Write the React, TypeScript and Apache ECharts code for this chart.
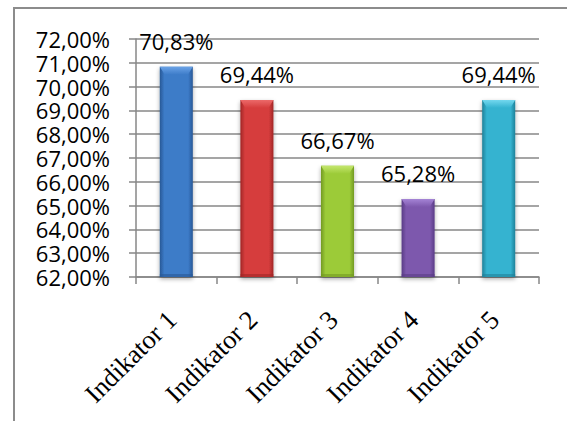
import React, { useEffect, useRef } from "react";
import * as echarts from "echarts";

const categories = ["Indikator 1", "Indikator 2", "Indikator 3", "Indikator 4", "Indikator 5"];
const values = [70.83, 69.44, 66.67, 65.28, 69.44];
const valueLabels = ["70,83%", "69,44%", "66,67%", "65,28%", "69,44%"];
const barColors = [
  { base: "#3c7bc8", dark: "#285896", light: "#6aa2e6" },
  { base: "#d63d3d", dark: "#a02626", light: "#ec6a6a" },
  { base: "#9ccb38", dark: "#739a22", light: "#c4e66e" },
  { base: "#7d58ad", dark: "#5a3c86", light: "#a584d6" },
  { base: "#34b3d0", dark: "#1f8199", light: "#74d8ef" },
];
const yMin = 62;
const yMax = 72;

export default function App() {
  const ref = useRef<HTMLDivElement>(null);
  useEffect(() => {
    if (!ref.current) return;
    const chart = echarts.init(ref.current, null, { renderer: "svg" });
    const sans = "Open Sans";
    chart.setOption({
      animation: false,
      graphic: [
        {
          type: "polyline",
          shape: { points: [[14, 430], [14, 8], [580, 8]] },
          style: { stroke: "#8c8c8c", lineWidth: 2, fill: "none" },
          silent: true,
        },
      ],
      grid: { left: 136, right: 28, top: 39, bottom: 144, containLabel: false },
      xAxis: {
        type: "category",
        data: categories,
        axisLine: { show: true, lineStyle: { color: "#878787", width: 1.5 } },
        axisTick: { show: true, length: 7, lineStyle: { color: "#878787", width: 1.5 } },
        axisLabel: {
          rotate: 45,
          margin: 34,
          padding: [0, 6, 0, 0],
          color: "#000",
          fontFamily: "Liberation Serif",
          fontSize: 26.5,
          interval: 0,
        },
        splitLine: { show: false },
      },
      yAxis: {
        type: "value",
        min: yMin,
        max: yMax,
        interval: 1,
        axisLine: { show: true, lineStyle: { color: "#878787", width: 1.5 } },
        axisTick: { show: true, length: 7, lineStyle: { color: "#878787", width: 1.5 } },
        axisLabel: {
          margin: 26,
          color: "#000",
          fontFamily: sans,
          fontSize: 22,
          lineHeight: 22,
          formatter: (v: number) => v.toFixed(2).replace(".", ",") + "%",
        },
        splitLine: { show: true, lineStyle: { color: "#878787", width: 1.5 } },
      },
      series: [
        {
          type: "custom",
          data: values.map((v, i) => [i, v]),
          renderItem: (params: any, api: any) => {
            const idx = api.value(0);
            const val = api.value(1);
            const top = api.coord([idx, val]);
            const base = api.coord([idx, yMin]);
            const w = api.size([1, 0])[0] * 0.41;
            const x0 = top[0] - w / 2;
            const y0 = top[1];
            const h = base[1] - y0;
            const c = barColors[params.dataIndex];
            const b = 5;
            const bh = 8;
            return {
              type: "group",
              children: [
                {
                  type: "rect",
                  shape: { x: x0, y: y0, width: w, height: h },
                  style: {
                    fill: new echarts.graphic.LinearGradient(0, 0, 1, 0, [
                      { offset: 0, color: c.dark },
                      { offset: 0.14, color: c.base },
                      { offset: 0.5, color: c.base },
                      { offset: 0.86, color: c.base },
                      { offset: 1, color: c.dark },
                    ]),
                    shadowBlur: 4,
                    shadowColor: "rgba(0,0,0,0.35)",
                    shadowOffsetY: 2,
                  },
                },
                {
                  type: "rect",
                  shape: { x: x0, y: base[1] - 3, width: w, height: 3 },
                  style: { fill: c.dark, opacity: 0.6 },
                },
                {
                  type: "polygon",
                  shape: {
                    points: [
                      [x0, y0],
                      [x0 + w, y0],
                      [x0 + w - b, y0 + bh],
                      [x0 + b, y0 + bh],
                    ],
                  },
                  style: {
                    fill: new echarts.graphic.LinearGradient(0, 0, 0, 1, [
                      { offset: 0, color: c.light },
                      { offset: 1, color: c.base },
                    ]),
                  },
                },
                {
                  type: "text",
                  x: top[0],
                  y: y0 - 26,
                  style: {
                    text: valueLabels[params.dataIndex],
                    fill: "#000",
                    fontFamily: sans,
                    fontSize: 22,
                    align: "center",
                    verticalAlign: "middle",
                  },
                },
              ],
            };
          },
        },
      ],
    });
    return () => chart.dispose();
  }, []);
  return <div ref={ref} style={{ width: 567, height: 421, position: "absolute", left: 0, top: 0 }} />;
}
